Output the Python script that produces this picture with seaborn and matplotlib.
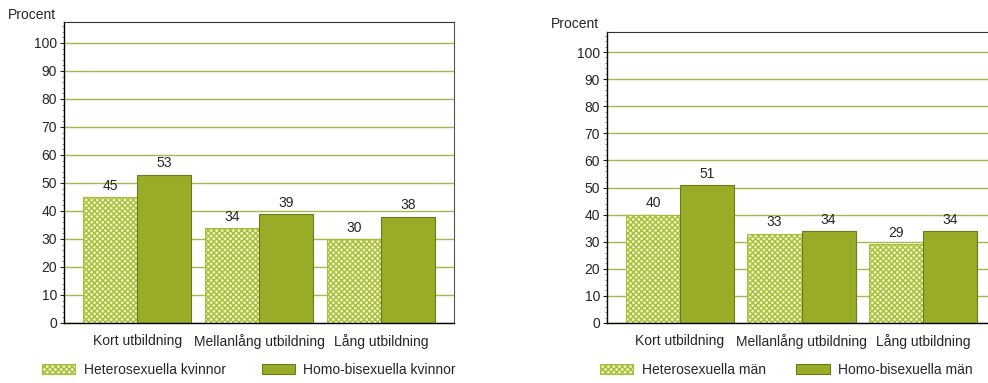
import pandas as pd
import matplotlib.pyplot as plt
import seaborn as sns
from matplotlib.ticker import MultipleLocator

categories = ['Kort utbildning', 'Mellanlång utbildning', 'Lång utbildning']
hetero_kvinnor = [45, 34, 30]
homo_kvinnor = [53, 39, 38]
hetero_man = [40, 33, 29]
homo_man = [51, 34, 34]
labels_kvinnor = ['Heterosexuella kvinnor', 'Homo-bisexuella kvinnor']
labels_man = ['Heterosexuella män', 'Homo-bisexuella män']

sns.set_style('white')
plt.rcParams['font.family'] = ['Liberation Sans', 'DejaVu Sans']
plt.rcParams['font.size'] = 10
plt.rcParams['hatch.linewidth'] = 1.0

fig = plt.figure(figsize=(9.88, 3.83), dpi=100)
ax1 = fig.add_axes([64 / 988, 1 - 323 / 383, 390 / 988, (323 - 22) / 383])
ax2 = fig.add_axes([607 / 988, 1 - 323 / 383, 389 / 988, (323 - 32) / 383])


def draw(ax, hetero, homo, labels, top, procent_xy, legend_x, colspace):
    df = pd.DataFrame({
        'kat': categories * 2,
        'grupp': [labels[0]] * 3 + [labels[1]] * 3,
        'varde': hetero + homo,
    })
    sns.barplot(data=df, x='kat', y='varde', hue='grupp', ax=ax, width=0.89,
                palette=['#eef3c8', '#9aab27'], legend=False, saturation=1)
    for p in ax.containers[0]:
        p.set_hatch('xxxxxx')
        p.set_edgecolor('#a9bf3a')
        p.set_linewidth(0.8)
    for p in ax.containers[1]:
        p.set_edgecolor('#6b7a1c')
        p.set_linewidth(0.8)
    for c in ax.containers:
        ax.bar_label(c, padding=3, fontsize=10)
    ax.set_xlim(-0.6, 2.6)
    ax.set_ylim(0, top)
    ax.yaxis.set_major_locator(MultipleLocator(10))
    ax.yaxis.set_minor_locator(MultipleLocator(2))
    ax.tick_params(axis='y', which='major', left=True, length=3, width=0.8, pad=2)
    ax.tick_params(axis='y', which='minor', left=True, length=1.5, width=0.6, color='#777777')
    ax.tick_params(axis='x', length=0, pad=8)
    ax.set_xlabel('')
    ax.set_ylabel('')
    ax.set_axisbelow(True)
    ax.grid(axis='y', color='#a8b84c', linewidth=1)
    for s in ['left', 'bottom']:
        ax.spines[s].set_color('black')
        ax.spines[s].set_linewidth(1)
    ax.spines['top'].set_color('#333333')
    ax.spines['right'].set_color('#555555')
    fig.text(procent_xy[0] / 988, 1 - procent_xy[1] / 383, 'Procent', ha='right', va='baseline', fontsize=10)
    fig.legend([ax.containers[0][0], ax.containers[1][0]], labels, loc='center left',
               bbox_to_anchor=(legend_x / 988, 1 - 370 / 383), ncol=2, frameon=False,
               borderpad=0, borderaxespad=0,
               handlelength=2.4, handleheight=0.8, columnspacing=colspace, fontsize=10,
               handletextpad=0.6)


draw(ax1, hetero_kvinnor, homo_kvinnor, labels_kvinnor, 107.5, (56, 19), 42, 2.6)
draw(ax2, hetero_man, homo_man, labels_man, 107.4, (599, 28), 600, 2.2)

plt.savefig('out.png', dpi=100)
